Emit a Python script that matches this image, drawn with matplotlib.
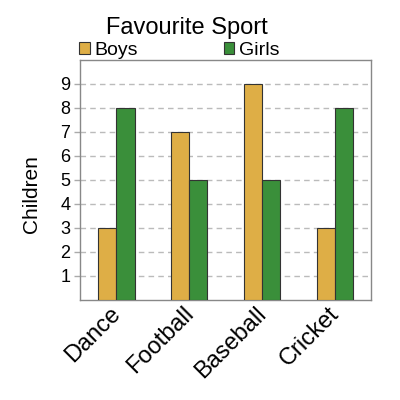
import matplotlib
matplotlib.use('Agg')

import matplotlib.pyplot as plt
import matplotlib.transforms as mtransforms
import numpy as np
from matplotlib.patches import Patch

plt.rcParams['font.family'] = ['Liberation Sans', 'DejaVu Sans']

# data
sports = ['Dance', 'Football', 'Baseball', 'Cricket']
boys = [3, 7, 9, 3]
girls = [8, 5, 5, 8]
y_ticks = [1, 2, 3, 4, 5, 6, 7, 8, 9]

boys_color = '#deae46'
girls_color = '#3a8f3a'

fig = plt.figure(figsize=(4, 4), dpi=100)
axes = fig.add_axes([0.2, 0.25, 0.728, 0.6])

x = np.arange(len(sports))
w = 0.25
axes.bar(x - w / 2, boys, w, color=boys_color, edgecolor='#333333', linewidth=0.8, zorder=3)
axes.bar(x + w / 2, girls, w, color=girls_color, edgecolor='#333333', linewidth=0.8, zorder=3)

axes.set_xlim(-0.5, 3.5)
axes.set_ylim(0, 10)
axes.set_yticks(y_ticks)
axes.set_yticklabels([str(t) for t in y_ticks], fontsize=13)
axes.yaxis.grid(True, linestyle=(0, (4, 3)), color='#bbbbbb', linewidth=1, zorder=0)
axes.tick_params(axis='y', length=4, width=1, color='#aaaaaa', pad=3)
axes.tick_params(axis='x', length=0, pad=2)

axes.set_xticks(x)
axes.set_xticklabels(sports, rotation=45, ha='right', rotation_mode='anchor', fontsize=17)
# nudge the category labels a little to the left
shift = mtransforms.ScaledTranslation(-7 / 100, 0, fig.dpi_scale_trans)
for lbl in axes.get_xticklabels():
    lbl.set_transform(lbl.get_transform() + shift)

axes.set_ylabel('Children', fontsize=15)
axes.yaxis.set_label_coords(-0.135, 0.44)

for s in axes.spines.values():
    s.set_color('#888888')
    s.set_linewidth(1)

fig.text(0.466, 0.93, 'Favourite Sport', ha='center', va='center', fontsize=17)

handles = [Patch(facecolor=boys_color, edgecolor='#333333', linewidth=0.8, label='Boys'),
           Patch(facecolor=girls_color, edgecolor='#333333', linewidth=0.8, label='Girls')]
fig.legend(handles=handles, loc='center left', bbox_to_anchor=(0.178, 0.874), ncol=2,
           frameon=False, fontsize=14, handlelength=0.55, handleheight=0.55,
           handletextpad=0.25, columnspacing=4.4, borderaxespad=0)

plt.savefig('out.png')
